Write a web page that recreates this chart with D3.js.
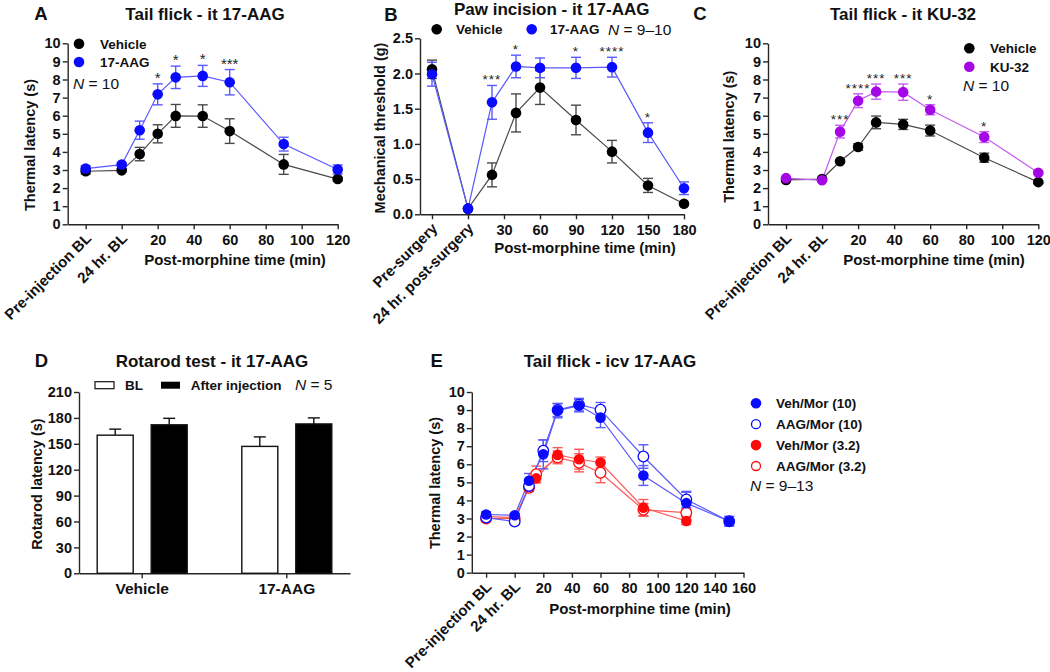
<!DOCTYPE html>
<html><head><meta charset="utf-8">
<script src="https://cdn.jsdelivr.net/npm/d3@7"></script>
<style>
body{margin:0;background:#fff;}
svg{font-family:"Liberation Sans",Arial,sans-serif;}
</style></head>
<body><svg id="c" width="1050" height="672"></svg>
<script>
// ---------- DATA ----------
const timesA = [-20, 0, 10, 20, 30, 45, 60, 90, 120];
const vehA = [2.93, 2.98, 3.88, 5.0, 5.99, 5.98, 5.15, 3.31, 2.5];
const vehAErr = [0.15, 0.1, 0.37, 0.5, 0.63, 0.62, 0.68, 0.55, 0.1];
const aagA = [3.08, 3.3, 5.2, 7.18, 8.12, 8.2, 7.85, 4.43, 3.03];
const aagAErr = [0.15, 0.1, 0.5, 0.58, 0.62, 0.58, 0.7, 0.38, 0.25];
const starsA = ["", "", "", "*", "*", "*", "***", "", ""];
const xTicksA = [-20, 0, 20, 40, 60, 80, 100, 120];
const xLabelsA = ["Pre-injection BL", "24 hr. BL", "20", "40", "60", "80", "100", "120"];

const timesB = [-30, 0, 20, 40, 60, 90, 120, 150, 180];
const vehB = [2.06, 0.08, 0.56, 1.44, 1.80, 1.34, 0.89, 0.41, 0.15];
const vehBErr = [0.13, 0.02, 0.17, 0.27, 0.24, 0.21, 0.16, 0.1, 0.02];
const aagB = [1.99, 0.08, 1.59, 2.10, 2.08, 2.08, 2.09, 1.16, 0.37];
const aagBErr = [0.17, 0.02, 0.24, 0.16, 0.14, 0.15, 0.14, 0.14, 0.09];
const starsB = ["", "", "***", "*", "", "*", "****", "*", ""];
const xTicksB = [-30, 0, 30, 60, 90, 120, 150, 180];
const xLabelsB = ["Pre-surgery", "24 hr. post-surgery", "30", "60", "90", "120", "150", "180"];

const timesC = [-20, 0, 10, 20, 30, 45, 60, 90, 120];
const vehC = [2.45, 2.5, 3.48, 4.27, 5.63, 5.52, 5.18, 3.68, 2.33];
const vehCErr = [0.1, 0.08, 0.08, 0.18, 0.35, 0.28, 0.3, 0.25, 0.08];
const kuC = [2.55, 2.43, 5.12, 6.83, 7.33, 7.3, 6.33, 4.82, 2.85];
const kuCErr = [0.08, 0.05, 0.35, 0.38, 0.42, 0.45, 0.28, 0.3, 0.08];
const starsC = ["", "", "***", "****", "***", "***", "*", "*", ""];
const xTicksC = [-20, 0, 20, 40, 60, 80, 100, 120];
const xLabelsC = ["Pre-injection BL", "24 hr. BL", "20", "40", "60", "80", "100", "120"];

const categoriesD = ["Vehicle", "17-AAG"];
const groupsD = ["BL", "After injection"];
const blD = [160, 147];
const blDErr = [7, 11];
const afterD = [172, 173];
const afterDErr = [7.5, 7];
const yTicksD = [0, 30, 60, 90, 120, 150, 180, 210];

const timesE = [-20, 0, 10, 20, 30, 45, 60, 90, 120, 150];
const vehMor10 = [3.22, 3.18, 5.09, 6.55, 8.97, 9.25, 8.58, 5.38, 3.85, 2.85];
const vehMor10Err = [0.15, 0.1, 0.4, 0.8, 0.4, 0.35, 0.55, 0.55, 0.6, 0.27];
const aagMor10 = [3.05, 2.83, 4.8, 6.75, 9.0, 9.3, 9.02, 6.43, 4.05, 2.85];
const aagMor10Err = [0.15, 0.1, 0.3, 0.6, 0.35, 0.35, 0.4, 0.65, 0.45, 0.25];
const timesERed = [-20, 0, 10, 15, 30, 45, 60, 90, 120];
const vehMor32 = [3.1, 3.05, 4.75, 5.22, 6.52, 6.28, 6.1, 3.6, 2.86];
const vehMor32Err = [0.15, 0.1, 0.2, 0.25, 0.4, 0.55, 0.3, 0.45, 0.2];
const aagMor32 = [3.0, 3.0, 4.7, 5.45, 6.38, 6.08, 5.53, 3.48, 3.32];
const aagMor32Err = [0.12, 0.1, 0.2, 0.45, 0.35, 0.5, 0.55, 0.35, 0.2];
const xTicksE = [-20, 0, 20, 40, 60, 80, 100, 120, 140, 160];
const xLabelsE = ["Pre-injection BL", "24 hr. BL", "20", "40", "60", "80", "100", "120", "140", "160"];
const yTicks10 = [0,1,2,3,4,5,6,7,8,9,10];

// ---------- STYLE ----------
const BLUE = "#0a0aff", BLUE_L = "#5a5aff";
const BLACK = "#000", BLACK_L = "#4a4a4a";
const PURPLE = "#a406e6", PURPLE_L = "#c45cf2";
const RED = "#ff0a0a", RED_L = "#ff5a5a";
const AX = "#262626";
const TICK_FS = 14.5;

const svg = d3.select("#c");

function styleAxis(g, fs) {
  g.select(".domain").attr("stroke", AX).attr("stroke-width", 1.4);
  g.selectAll(".tick line").attr("stroke", AX).attr("stroke-width", 1.4);
  g.selectAll(".tick text").attr("fill", "#111").attr("font-size", fs || TICK_FS).attr("font-weight", "bold");
}

function linePanel(cfg) {
  const x = d3.scaleLinear().domain(cfg.xDomain).range(cfg.xRange);
  const y = d3.scaleLinear().domain(cfg.yDomain).range(cfg.yRange);
  const g = svg.append("g");
  const gy = g.append("g").attr("transform", `translate(${cfg.xRange[0]},0)`)
    .call(d3.axisLeft(y).tickValues(cfg.yTicks).tickSize(5).tickSizeOuter(0).tickPadding(2).tickFormat(cfg.yFormat || d3.format("d")));
  styleAxis(gy);
  const gx = g.append("g").attr("transform", `translate(0,${cfg.yRange[0]})`)
    .call(d3.axisBottom(x).tickValues(cfg.xTicks).tickSize(5).tickSizeOuter(0).tickPadding(5).tickFormat((d,i)=>cfg.xLabels[i]));
  styleAxis(gx);
  gx.selectAll(".tick text").filter(function(){return isNaN(+this.textContent);})
    .attr("x", 0).attr("y", 0).attr("dy", null).attr("text-anchor", "end")
    .attr("font-size", 15)
    .attr("transform", cfg.rotT || "translate(6,15) rotate(-45)");

  cfg.series.forEach(s => {
    const pts = s.t.map((t,i)=>({t, v:s.v[i], e:s.e[i]}));
    g.append("path").datum(pts).attr("fill","none").attr("stroke", s.lc).attr("stroke-width", 1.2)
      .attr("d", d3.line().x(d=>x(d.t)).y(d=>y(d.v)));
    const eb = g.append("g").attr("stroke", s.lc).attr("stroke-width", 1.4);
    pts.forEach(d => {
      eb.append("line").attr("x1", x(d.t)).attr("x2", x(d.t)).attr("y1", y(d.v - d.e)).attr("y2", y(d.v + d.e));
      eb.append("line").attr("x1", x(d.t)-5).attr("x2", x(d.t)+5).attr("y1", y(d.v + d.e)).attr("y2", y(d.v + d.e));
      eb.append("line").attr("x1", x(d.t)-5).attr("x2", x(d.t)+5).attr("y1", y(d.v - d.e)).attr("y2", y(d.v - d.e));
    });
  });
  cfg.series.forEach(s => {
    g.append("g").selectAll("circle").data(s.t.map((t,i)=>({t, v:s.v[i]}))).join("circle")
      .attr("cx", d=>x(d.t)).attr("cy", d=>y(d.v)).attr("r", 5.3)
      .attr("fill", s.open ? "#fff" : s.c).attr("stroke", s.c).attr("stroke-width", s.open ? 1.3 : 0);
  });
  if (cfg.stars) {
    const s = cfg.stars;
    g.append("g").selectAll("text").data(s.labels.map((l,i)=>({l, t:s.t[i], top:s.v[i]+s.e[i]})).filter(d=>d.l))
      .join("text").attr("x", d=>x(d.t)).attr("y", d=>y(d.top) - 1).attr("text-anchor","middle")
      .attr("font-size", s.fs || 15).attr("letter-spacing", s.ls || 0).attr("fill","#222").text(d=>d.l);
  }
  return {x, y, g};
}

function text(x, y, t, o) {
  o = o || {};
  const el = svg.append("text").attr("x", x).attr("y", y).attr("text-anchor", o.anchor || "start")
    .attr("font-size", o.fs || 13.5).attr("font-weight", o.fw || "bold").attr("fill", o.fill || "#111");
  if (o.rot) el.attr("transform", `rotate(${o.rot},${x},${y})`);
  if (o.html) el.html(o.html); else el.text(t);
  return el;
}
function nText(x, y, rest) {
  return text(x, y, null, {fw: "normal", fs: 15.5, html: `<tspan font-style="italic">N</tspan> = ${rest}`});
}
function dot(x, y, c, open) {
  svg.append("circle").attr("cx", x).attr("cy", y).attr("r", open ? 4.5 : 5.3)
    .attr("fill", open ? "#fff" : c).attr("stroke", c).attr("stroke-width", open ? 1.3 : 0);
}

// ---------- PANEL A ----------
linePanel({
  xDomain: [-30, 120], xRange: [67.7, 337.7], yDomain: [0, 10], yRange: [224.3, 43.3],
  yTicks: yTicks10, xTicks: xTicksA, xLabels: xLabelsA,
  series: [
    {t: timesA, v: vehA, e: vehAErr, c: BLACK, lc: BLACK_L},
    {t: timesA, v: aagA, e: aagAErr, c: BLUE, lc: BLUE_L}
  ],
  stars: {t: timesA, v: aagA, e: aagAErr, labels: starsA}
});
text(41, 20, "A", {anchor: "middle", fs: 18.5});
text(205, 20, "Tail flick - it 17-AAG", {anchor: "middle", fs: 17});
text(35, 145, "Thermal latency (s)", {anchor: "middle", fs: 14.5, rot: -90});
text(235, 265, "Post-morphine time (min)", {anchor: "middle", fs: 15});
dot(79, 43.7, BLACK); text(100, 48.5, "Vehicle");
dot(79, 62, BLUE); text(100, 66.8, "17-AAG");
nText(73, 88.5, "10");

// ---------- PANEL B ----------
linePanel({
  xDomain: [-40, 180], xRange: [420, 684], yDomain: [0, 2.5], yRange: [214.3, 38.3],
  yTicks: [0, 0.5, 1, 1.5, 2, 2.5], yFormat: d3.format(".1f"), xTicks: xTicksB, xLabels: xLabelsB,
  series: [
    {t: timesB, v: vehB, e: vehBErr, c: BLACK, lc: BLACK_L},
    {t: timesB, v: aagB, e: aagBErr, c: BLUE, lc: BLUE_L}
  ],
  stars: {t: timesB, v: aagB, e: aagBErr, labels: starsB, fs: 13.5, ls: 1}
});
text(391, 20.5, "B", {anchor: "middle", fs: 18.5});
text(551.7, 15, "Paw incision - it 17-AAG", {anchor: "middle", fs: 17});
text(385, 128, "Mechanical threshold (g)", {anchor: "middle", fs: 14.5, rot: -90});
text(585, 253, "Post-morphine time (min)", {anchor: "middle", fs: 15});
dot(436.7, 29.3, BLACK); text(456, 34, "Vehicle");
dot(531.7, 29.3, BLUE); text(550, 34, "17-AAG");
nText(608, 34.8, "9–10");

// ---------- PANEL C ----------
linePanel({
  xDomain: [-30, 120], xRange: [768, 1038.3], yDomain: [0, 10], yRange: [224.3, 43.3],
  yTicks: yTicks10, xTicks: xTicksC, xLabels: xLabelsC,
  series: [
    {t: timesC, v: vehC, e: vehCErr, c: BLACK, lc: BLACK_L},
    {t: timesC, v: kuC, e: kuCErr, c: PURPLE, lc: PURPLE_L}
  ],
  stars: {t: timesC, v: kuC, e: kuCErr, labels: starsC, fs: 13.5, ls: 1}
});
text(700, 20, "C", {anchor: "middle", fs: 18.5});
text(903, 20, "Tail flick - it KU-32", {anchor: "middle", fs: 17});
text(734.3, 136.7, "Thermal latency (s)", {anchor: "middle", fs: 14.5, rot: -90});
text(934, 265, "Post-morphine time (min)", {anchor: "middle", fs: 15});
dot(969.3, 48.3, BLACK); text(990, 53, "Vehicle");
dot(969.3, 66.7, PURPLE); text(990, 71.5, "KU-32");
nText(963, 90.5, "10");

// ---------- PANEL D ----------
(function(){
  const x0 = d3.scaleBand().domain(categoriesD).range([79, 350]).paddingInner(0.2).paddingOuter(0.037);
  const y = d3.scaleLinear().domain([0, 210]).range([573.3, 392]);
  const g = svg.append("g");
  const gy = g.append("g").attr("transform", "translate(79,0)")
    .call(d3.axisLeft(y).tickValues(yTicksD).tickSize(5).tickSizeOuter(0).tickPadding(2));
  styleAxis(gy);
  const gx = g.append("g").attr("transform", "translate(0,573.3)")
    .call(d3.axisBottom(x0).tickSize(5).tickSizeOuter(0).tickPadding(5));
  styleAxis(gx, 15.5);
  const rows = categoriesD.map((c,i)=>({c, vals:[{k:groupsD[0], v:blD[i], e:blDErr[i]},{k:groupsD[1], v:afterD[i], e:afterDErr[i]}]}));
  rows.forEach(r => {
    const cx = x0(r.c) + x0.bandwidth()/2;
    const x1 = d3.scaleBand().domain(groupsD).range([cx-45, cx+45]).paddingInner(1/3);
    r.vals.forEach(d => {
      const bx = x1(d.k), bw = x1.bandwidth(), xm = bx + bw/2;
      g.append("line").attr("x1", xm).attr("x2", xm).attr("y1", y(d.v)).attr("y2", y(d.v+d.e)).attr("stroke","#111").attr("stroke-width",1.4);
      g.append("line").attr("x1", xm-6).attr("x2", xm+6).attr("y1", y(d.v+d.e)).attr("y2", y(d.v+d.e)).attr("stroke","#111").attr("stroke-width",1.4);
      g.append("rect").attr("x", bx).attr("y", y(d.v)).attr("width", bw).attr("height", y(0)-y(d.v))
        .attr("fill", d.k === groupsD[0] ? "#fff" : "#000").attr("stroke", "#111").attr("stroke-width", 1.4);
    });
  });
})();
text(41.5, 367, "D", {anchor: "middle", fs: 18.5});
text(212, 367, "Rotarod test - it 17-AAG", {anchor: "middle", fs: 17});
text(41.7, 484, "Rotarod latency (s)", {anchor: "middle", fs: 14.5, rot: -90});
svg.append("rect").attr("x", 95).attr("y", 381.7).attr("width", 19).attr("height", 7).attr("fill","#fff").attr("stroke","#111").attr("stroke-width",1.2);
text(125, 389.8, "BL");
svg.append("rect").attr("x", 161).attr("y", 381.7).attr("width", 19).attr("height", 7).attr("fill","#000");
text(190.7, 389.8, "After injection");
nText(295, 390.3, "5");

// ---------- PANEL E ----------
linePanel({
  xDomain: [-30, 160], xRange: [471.8, 743.5], yDomain: [0, 10], yRange: [572.7, 392],
  yTicks: yTicks10, xTicks: xTicksE, xLabels: xLabelsE,
  series: [
    {t: timesERed, v: aagMor32, e: aagMor32Err, c: RED, lc: RED_L, open: true},
    {t: timesERed, v: vehMor32, e: vehMor32Err, c: RED, lc: RED_L},
    {t: timesE, v: aagMor10, e: aagMor10Err, c: BLUE, lc: BLUE_L, open: true},
    {t: timesE, v: vehMor10, e: vehMor10Err, c: BLUE, lc: BLUE_L}
  ]
});
text(436.7, 367, "E", {anchor: "middle", fs: 18.5});
text(610, 367, "Tail flick - icv 17-AAG", {anchor: "middle", fs: 17});
text(440, 483, "Thermal latency (s)", {anchor: "middle", fs: 14.5, rot: -90});
text(640, 614, "Post-morphine time (min)", {anchor: "middle", fs: 15});
const legE = [["Veh/Mor (10)", BLUE, false], ["AAG/Mor (10)", BLUE, true], ["Veh/Mor (3.2)", RED, false], ["AAG/Mor (3.2)", RED, true]];
const legEy = d3.scalePoint().domain(legE.map(d=>d[0])).range([403.3, 466]);
legE.forEach(d => { dot(756, legEy(d[0]), d[1], d[2]); text(776, legEy(d[0]) + 4.8, d[0]); });
nText(750, 490.8, "9–13");
</script></body></html>
